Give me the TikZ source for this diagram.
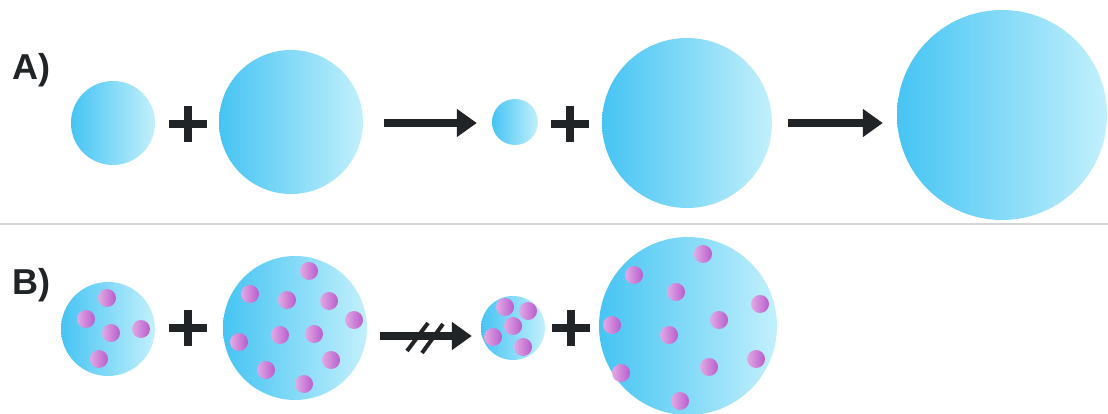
\documentclass[tikz,border=0pt]{standalone}
\usepackage{fontspec}
\setmainfont{Liberation Sans}
\usetikzlibrary{arrows.meta,calc}

\definecolor{dropL}{RGB}{70,196,243}
\definecolor{dropR}{RGB}{194,240,252}
\definecolor{solL}{RGB}{226,170,229}
\definecolor{solR}{RGB}{184,92,204}
\definecolor{ink}{RGB}{32,36,38}
\definecolor{rulegray}{RGB}{214,214,214}

\begin{document}
\begin{tikzpicture}[x=1pt,y=-1pt,
  drop/.style={circle,inner sep=0pt,minimum size=#1,left color=dropL,right color=dropR},
  solute/.style={circle,inner sep=0pt,minimum size=18pt,left color=solL,right color=solR},
  plussign/.style={inner sep=0pt,minimum width=38pt,minimum height=36pt},
  plusbar/.style={draw=ink,line width=8.5pt},
  flow/.style={draw=ink,line width=8.5pt,-{Triangle[length=20pt,width=27pt]}},
  panel/.style={font=\fontsize{36}{40}\selectfont\bfseries,text=ink,inner sep=0pt,anchor=base west}]

\useasboundingbox (0,0) rectangle (1108,414);
\fill[white] (0,0) rectangle (1108,414);

% panel separator
\coordinate (sepL) at (0,224);
\coordinate (sepR) at (1108,224);
\draw[rulegray,line width=1.5pt] (sepL) -- (sepR);

% ---------- A) ----------
\node[panel] (labA) at (12,80) {A)};

\node[drop=84pt]  (a1) at (113,123) {};
\node[drop=144pt] (a2) at (291,122) {};
\node[drop=46pt]  (a3) at (515,122) {};
\node[drop=170pt] (a4) at (687,123) {};
\node[drop=210pt] (a5) at (1002,115) {};

\node[plussign] (pa1) at (188,124) {};
\node[plussign] (pa2) at (570,124) {};
\foreach \p in {pa1,pa2}
  \draw[plusbar] (\p.west) -- (\p.east) (\p.north) -- (\p.south);

\draw[flow,shorten <=21pt,shorten >=15pt] (a2.east |- 0,123) -- (a3.west |- 0,123);
\draw[flow,shorten <=16pt,shorten >=14pt] (a4.east) -- (a4.east -| a5.west);

% ---------- B) ----------
\node[panel] (labB) at (12,294) {B)};

\node[drop=94pt]  (b1) at (108,329) {};
\node[drop=144pt] (b2) at (295,328) {};
\node[drop=64pt]  (b3) at (513,328) {};
\node[drop=178pt] (b4) at (688,326) {};

\node[plussign] (pb1) at (188,328) {};
\node[plussign] (pb2) at (571,328) {};
\foreach \p in {pb1,pb2}
  \draw[plusbar] (\p.west) -- (\p.east) (\p.north) -- (\p.south);

% blocked step: arrow struck through with two slashes
\draw[flow,shorten <=13pt,shorten >=9pt] (b2.east |- 0,336) -- (b3.west |- 0,336);
\draw[ink,line width=4pt] (407,351) -- (428,323) (422,353) -- (443,324);

% solute particles
\foreach \p [count=\i] in {(107,298),(86,319),(111,333),(141,329),(99,359)}
  \node[solute] (s1\i) at \p {};
\foreach \p [count=\i] in {(309,271),(250,294),(287,300),(329,301),(354,320),(239,342),
                           (280,335),(314,334),(331,360),(266,370),(304,384)}
  \node[solute] (s2\i) at \p {};
\foreach \p [count=\i] in {(505,307),(528,311),(513,326),(493,337),(523,347)}
  \node[solute] (s3\i) at \p {};
\foreach \p [count=\i] in {(703,254),(634,275),(676,292),(760,304),(612,325),(719,320),
                           (669,335),(756,359),(709,367),(621,373),(680,401)}
  \node[solute] (s4\i) at \p {};
\end{tikzpicture}
\end{document}
